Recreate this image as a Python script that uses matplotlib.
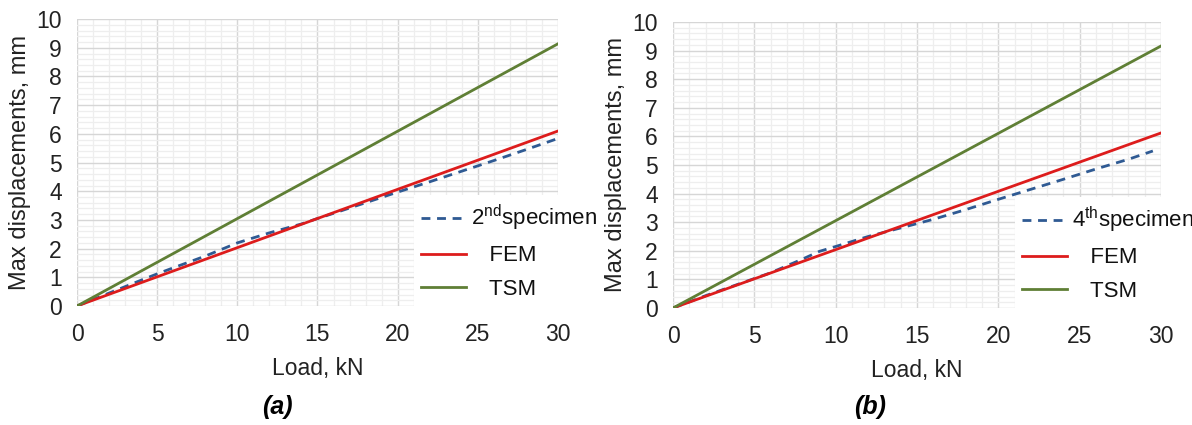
import matplotlib
matplotlib.use("Agg")
import matplotlib.pyplot as plt
from matplotlib.ticker import MultipleLocator

plt.rcParams['font.family'] = ['Liberation Sans', 'DejaVu Sans']
plt.rcParams['mathtext.fontset'] = 'custom'
plt.rcParams['mathtext.rm'] = 'Liberation Sans'

# Data
fem_load = [0, 30]
fem_disp_a = [0, 6.10]
fem_disp_b = [0, 6.12]
tsm_load = [0, 30]
tsm_disp_a = [0, 9.14]
tsm_disp_b = [0, 9.16]

spec2_load = [0, 2, 4, 5, 6, 8, 10, 12, 14, 15, 16, 18, 20, 22, 24, 26, 28, 30]
spec2_disp = [0, 0.45, 0.90, 1.12, 1.33, 1.74, 2.20, 2.55, 2.86, 3.05, 3.23, 3.60, 3.97, 4.33, 4.70, 5.07, 5.45, 5.84]

spec4_load = [0, 2, 4, 6, 8, 9, 10, 12, 14, 16, 18, 20, 22, 24, 26, 28, 29.5]
spec4_disp = [0, 0.43, 0.83, 1.23, 1.72, 1.98, 2.15, 2.50, 2.80, 3.10, 3.44, 3.80, 4.15, 4.50, 4.86, 5.20, 5.49]

xticks = [0, 5, 10, 15, 20, 25, 30]
yticks = list(range(0, 11))

C_SPEC = '#2f5a93'
C_FEM = '#dd1c1c'
C_TSM = '#5f7f35'

fig = plt.figure(figsize=(11.92, 4.25), dpi=100)
ax_a = fig.add_axes([0.0646, 0.280, 0.4035, 0.675])
ax_b = fig.add_axes([0.5646, 0.2753, 0.4094, 0.673])

panels = [
    (ax_a, spec2_load, spec2_disp, fem_disp_a, tsm_disp_a, '2$^{\\rm nd}$specimen', '(a)'),
    (ax_b, spec4_load, spec4_disp, fem_disp_b, tsm_disp_b, '4$^{\\rm th}$specimen', '(b)'),
]

for ax, sl, sd, fd, td, slabel, tag in panels:
    ax.plot(sl, sd, linestyle=(0, (3.2, 2.4)), color=C_SPEC, lw=2.0, label=slabel, zorder=3)
    ax.plot(fem_load, fd, color=C_FEM, lw=2.0, label='   FEM', zorder=4)
    ax.plot(tsm_load, td, color=C_TSM, lw=2.0, label='   TSM', zorder=4)
    ax.set_xlim(0, 30)
    ax.set_ylim(0, 10)
    ax.set_xticks(xticks)
    ax.set_yticks(yticks)
    ax.xaxis.set_minor_locator(MultipleLocator(1))
    ax.yaxis.set_minor_locator(MultipleLocator(0.2))
    ax.grid(which='major', color='#d6d6d6', lw=1.0, zorder=0)
    ax.grid(which='minor', color='#eeeeee', lw=0.9, zorder=0)
    ax.set_axisbelow(True)
    for s in ax.spines.values():
        s.set_visible(False)
    ax.tick_params(which='both', length=0)
    ax.tick_params(axis='x', labelsize=16.5, pad=12, colors='#222222')
    ax.tick_params(axis='y', labelsize=16.5, pad=11, colors='#222222')
    ax.set_xlabel('Load, kN', fontsize=16.5, color='#222222', labelpad=8)
    ax.set_ylabel('Max displacements, mm', fontsize=17, color='#222222', labelpad=4)
    leg = ax.legend(loc='lower left', bbox_to_anchor=(0.70, -0.005), fontsize=16,
                    frameon=True, facecolor='white', edgecolor='none', framealpha=1,
                    handlelength=2.0, handletextpad=0.25, labelspacing=0.55,
                    borderpad=0.35, borderaxespad=0)
    leg.get_frame().set_boxstyle('square', pad=0)
    leg.set_zorder(5)
    for t in leg.get_texts():
        t.set_color('#111111')

fig.text(0.2325, 0.025, '(a)', fontsize=18, fontweight='bold', fontstyle='italic', ha='center')
fig.text(0.7300, 0.025, '(b)', fontsize=18, fontweight='bold', fontstyle='italic', ha='center')

fig.savefig('out.png', dpi=100)
